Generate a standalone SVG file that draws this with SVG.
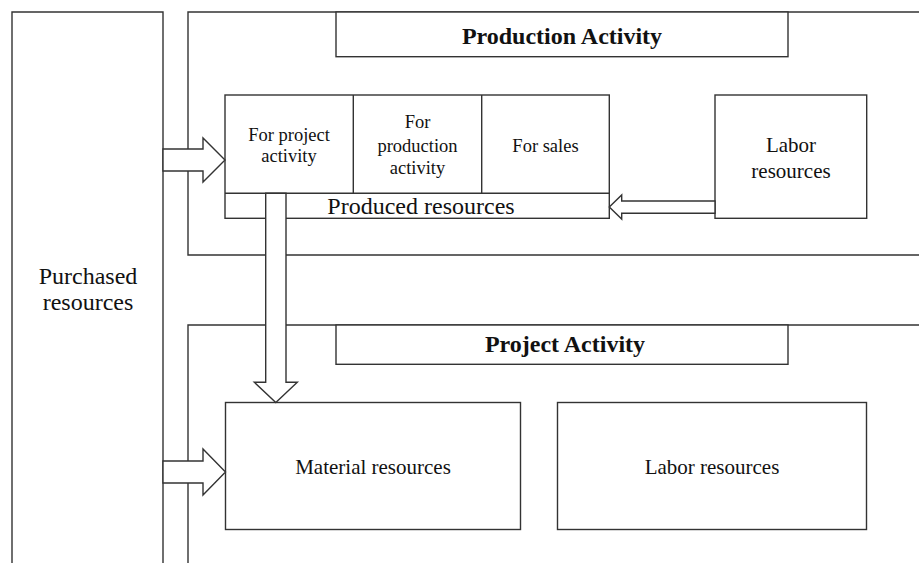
<svg xmlns="http://www.w3.org/2000/svg" width="919" height="563" viewBox="0 0 919 563">
  <style>
    .ln { fill: none; stroke: #333; stroke-width: 1.4; }
    .box { fill: #fff; stroke: #333; stroke-width: 1.4; }
    .arrow { fill: #fff; stroke: #333; stroke-width: 1.4; stroke-linejoin: miter; }
    .title { font-family: 'Liberation Serif', serif; font-size: 24px; font-weight: bold; fill: #111; text-anchor: middle; }
    .big { font-family: 'Liberation Serif', serif; font-size: 24px; fill: #111; text-anchor: middle; }
    .mid { font-family: 'Liberation Serif', serif; font-size: 21px; fill: #111; text-anchor: middle; }
    .cell { font-family: 'Liberation Serif', serif; font-size: 18.5px; fill: #111; text-anchor: middle; }
  </style>
  <rect width="919" height="563" fill="#fff"/>

  <!-- Purchased resources column (open at the bottom) -->
  <g id="purchased">
    <path class="ln" d="M12,563 V12 H163 V563"/>
    <text class="big" x="88" y="284">Purchased</text>
    <text class="big" x="88" y="310">resources</text>
  </g>

  <!-- Production activity area -->
  <g id="production-area">
    <path class="ln" d="M919,12 H188 V255 H919"/>
  </g>
  <g id="production-title">
    <rect class="box" x="336" y="12" width="452" height="44.7"/>
    <text class="title" x="562" y="44">Production Activity</text>
  </g>

  <!-- Produced resources with three destination cells -->
  <g id="produced">
    <rect class="box" x="225" y="95" width="384.3" height="123.3"/>
    <line class="ln" x1="225" y1="193.3" x2="609.3" y2="193.3"/>
    <line class="ln" x1="353.3" y1="95" x2="353.3" y2="193.3"/>
    <line class="ln" x1="481.7" y1="95" x2="481.7" y2="193.3"/>
    <text class="cell" x="289" y="141">For project</text>
    <text class="cell" x="289" y="162">activity</text>
    <text class="cell" x="417.5" y="128">For</text>
    <text class="cell" x="417.5" y="151.5">production</text>
    <text class="cell" x="417.5" y="174">activity</text>
    <text class="cell" x="545.5" y="151.5">For sales</text>
    <text class="big" x="421" y="214">Produced resources</text>
  </g>

  <g id="labor-production">
    <rect class="box" x="715" y="95" width="151.7" height="123.3"/>
    <text class="mid" x="791" y="152">Labor</text>
    <text class="mid" x="791" y="177.5">resources</text>
  </g>

  <!-- Project activity area -->
  <g id="project-area">
    <path class="ln" d="M919,325 H188 V563"/>
  </g>
  <g id="project-title">
    <rect class="box" x="336" y="325" width="452" height="39.3"/>
    <text class="title" x="565" y="352">Project Activity</text>
  </g>

  <g id="material">
    <rect class="box" x="225.5" y="402.5" width="295" height="127"/>
    <text class="mid" x="373" y="474">Material resources</text>
  </g>

  <g id="labor-project">
    <rect class="box" x="557.5" y="402.5" width="309" height="127"/>
    <text class="mid" x="712" y="474">Labor resources</text>
  </g>

  <!-- Block arrows -->
  <g id="connectors">
    <polygon class="arrow" points="163,149 203,149 203,138 225,160 203,182 203,171 163,171"/>
    <polygon class="arrow" points="163,461 203,461 203,449 225.5,472 203,495 203,483 163,483"/>
    <polygon class="arrow" points="265.7,193.3 286,193.3 286,382.3 297.3,382.3 275.8,402.5 254.3,382.3 265.7,382.3"/>
    <polygon class="arrow" points="715,201 621.7,201 621.7,195 609.3,207 621.7,219 621.7,213.3 715,213.3"/>
  </g>
</svg>
